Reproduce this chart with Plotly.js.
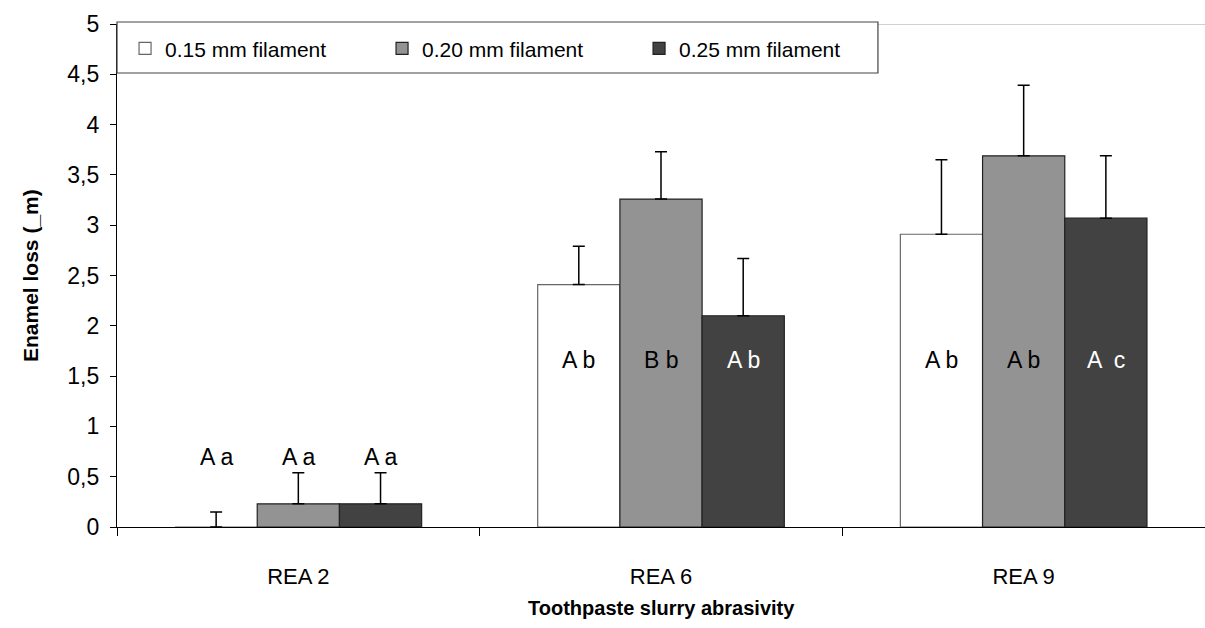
<!DOCTYPE html>
<html>
<head>
<meta charset="utf-8">
<script src="https://cdn.plot.ly/plotly-3.0.1.min.js"></script>
<style>html,body{margin:0;padding:0;background:#fff;}#chart{width:1205px;height:628px;}</style>
</head>
<body>
<div id="chart"></div>
<script>
const categories = ['REA 2', 'REA 6', 'REA 9'];
const seriesNames = ['0.15 mm filament', '0.20 mm filament', '0.25 mm filament'];
const loss015 = [0.00, 2.41, 2.91];
const loss020 = [0.23, 3.26, 3.69];
const loss025 = [0.23, 2.10, 3.07];
const err015 = [0.15, 0.38, 0.74];
const err020 = [0.31, 0.47, 0.70];
const err025 = [0.31, 0.57, 0.62];
const labels015 = ['A a', 'A b', 'A b'];
const labels020 = ['A a', 'B b', 'A b'];
const labels025 = ['A a', 'A b', 'A  c'];
const yTicks = [0, 0.5, 1, 1.5, 2, 2.5, 3, 3.5, 4, 4.5, 5];
const xTitle = 'Toothpaste slurry abrasivity';
const yTitle = 'Enamel loss (_m)';

const values = [loss015, loss020, loss025];
const errs = [err015, err020, err025];
const labels = [labels015, labels020, labels025];
const fills = ['#ffffff', '#939393', '#424242'];
const outlines = ['#666666', '#222222', '#222222'];
const textColors = ['#000000', '#000000', '#ffffff'];
const bargap = 0.32;
const barW = (1 - bargap) / 3;
const FONT = 'Liberation Sans, Arial, sans-serif';

const traces = values.map((v, j) => ({
  type: 'bar',
  name: seriesNames[j],
  x: categories,
  y: v,
  marker: {color: fills[j], line: {color: outlines[j], width: 1.2}},
  error_y: {type: 'data', symmetric: false, array: errs[j], arrayminus: v.map(() => 0),
            color: '#000', thickness: 1.5, width: 6}
}));

const annotations = [];
values.forEach((v, j) => {
  v.forEach((val, i) => {
    const low = val < 1;
    annotations.push({
      xref: 'x', yref: 'y', x: i + (j - 1) * barW, y: low ? 0.7 : 1.66,
      text: labels[j][i], showarrow: false,
      font: {family: FONT, size: 23, color: low ? '#000' : textColors[j]}
    });
  });
});
annotations.push({
  xref: 'paper', yref: 'paper', x: 0.5, y: -0.161, xanchor: 'center', yanchor: 'middle',
  text: '<b>' + xTitle + '</b>', showarrow: false, font: {family: FONT, size: 20, color: '#000'}
});
annotations.push({
  xref: 'paper', yref: 'paper', x: -0.0795, y: 0.5, xanchor: 'center', yanchor: 'middle',
  textangle: -90, text: '<b>' + yTitle + '</b>', showarrow: false,
  font: {family: FONT, size: 21, color: '#000'}
});

const layout = {
  width: 1205, height: 628,
  margin: {l: 117, r: 0, t: 24, b: 101},
  paper_bgcolor: '#fff', plot_bgcolor: '#fff',
  separators: ',.',
  barmode: 'group', bargap: bargap, bargroupgap: 0,
  font: {family: FONT, color: '#000'},
  showlegend: true,
  legend: {orientation: 'h', x: 0.0074, xanchor: 'left', y: 0.951, yanchor: 'middle',
           bgcolor: 'rgba(0,0,0,0)', borderwidth: 0,
           font: {family: FONT, size: 21, color: '#000'},
           entrywidth: 212, entrywidthmode: 'pixels', itemwidth: 30, traceorder: 'normal'},
  xaxis: {type: 'category', range: [-0.5, 2.5], showline: true, linecolor: '#000', linewidth: 1.2,
          ticks: 'outside', tickson: 'boundaries', ticklen: 8, tickcolor: '#000',
          showgrid: false, zeroline: false, automargin: false, ticklabelstandoff: 29,
          tickfont: {size: 22, color: '#000'}},
  yaxis: {range: [0, 5], tickvals: yTicks, showline: true, linecolor: '#000', linewidth: 1.2,
          ticks: 'outside', ticklen: 6, tickcolor: '#000', showgrid: false, zeroline: false,
          automargin: false, ticklabelstandoff: 6,
          tickfont: {size: 23, color: '#000'}},
  shapes: [
    {type: 'line', xref: 'paper', yref: 'y', x0: 0, x1: 1, y0: 5, y1: 5,
     line: {color: '#c0c0c0', width: 1.5}, layer: 'above'},
    {type: 'rect', xref: 'paper', yref: 'paper', x0: 0, x1: 0.6994, y0: 0.9026, y1: 1.004,
     fillcolor: '#fff', line: {color: '#444', width: 1.2}, layer: 'above'}
  ],
  annotations: annotations
};

Plotly.newPlot('chart', traces, layout, {displayModeBar: false, staticPlot: true});
</script>
</body>
</html>
